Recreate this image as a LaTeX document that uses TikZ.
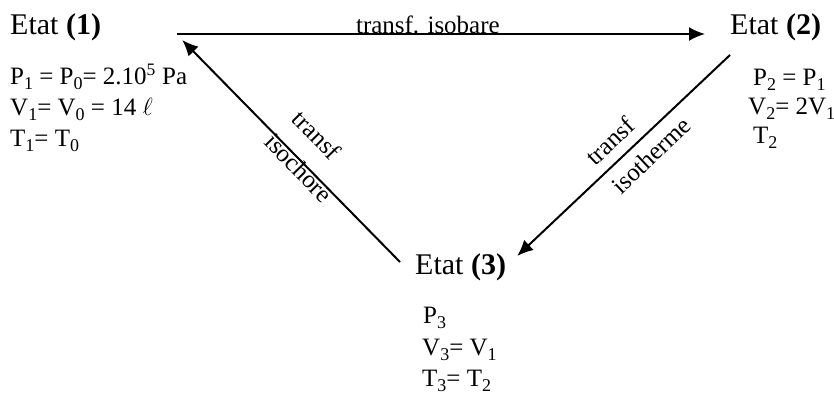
\documentclass[tikz,border=0pt]{standalone}
\usepackage{fontspec}
\setmainfont{Liberation Serif}
\usetikzlibrary{arrows.meta}
\newcommand{\indice}[1]{\raisebox{-5pt}{\fontsize{18}{20}\selectfont #1}}
\begin{document}
\begin{tikzpicture}[x=1pt, y=1pt,
    etat/.style={anchor=base west, inner sep=0pt, font=\fontsize{30}{36}\selectfont},
    donnee/.style={anchor=base west, inner sep=0pt, font=\fontsize{25}{30}\selectfont},
    legende/.style={inner sep=0pt, font=\fontsize{25}{30}\selectfont},
    fleche/.style={-{Latex[length=16pt, width=14pt]}, line width=2pt}]
    \useasboundingbox (0,0) rectangle (834,396);

    % etats
    \node[etat] (e1) at (10,361) {Etat \textbf{(1)}};
    \node[etat] (e2) at (730,361) {Etat \textbf{(2)}};
    \node[etat] (e3) at (415,121) {Etat \textbf{(3)}};

    % etat 1
    \node[donnee] (p1) at (10,311) {P\indice{1} = P\indice{0}= 2.10\textsuperscript{5} Pa};
    \node[donnee] (v1) at (10,280) {V\indice{1}= V\indice{0} = 14 $\ell$};
    \node[donnee] (t1) at (10,249) {T\indice{1}= T\indice{0}};

    % etat 2
    \node[donnee] (p2) at (753,310) {P\indice{2} = P\indice{1}};
    \node[donnee] (v2) at (748,281) {V\indice{2}= 2V\indice{1}};
    \node[donnee] (t2) at (753,252) {T\indice{2}};

    % etat 3
    \node[donnee] (p3) at (423,73) {P\indice{3}};
    \node[donnee] (v3) at (422,41) {V\indice{3}= V\indice{1}};
    \node[donnee] (t3) at (422,10) {T\indice{3}= T\indice{2}};

    % transformations
    \draw[fleche] ([xshift=76pt, yshift=1pt]e1.base east) -- ([xshift=-25pt, yshift=1pt]e2.base west)
        node[legende, pos=0.475, anchor=base] (l12) {transf. isobare};
    \draw[fleche] ([yshift=-20pt]e2.base west) -- ([shift={(11pt,19pt)}]e3.base east);
    \draw[fleche] ([shift={(-15pt,13pt)}]e3.base west) -- ([shift={(81pt,-5pt)}]e1.base east);

    % legendes obliques
    \node[legende, rotate=43.3] (l23a) at (610,255) {transf};
    \node[legende, rotate=43.3] (l23b) at (651,241) {isotherme};
    \node[legende, rotate=-45.5] (l31a) at (317,261) {transf};
    \node[legende, rotate=-45.5] (l31b) at (299,228) {isochore};
\end{tikzpicture}
\end{document}
